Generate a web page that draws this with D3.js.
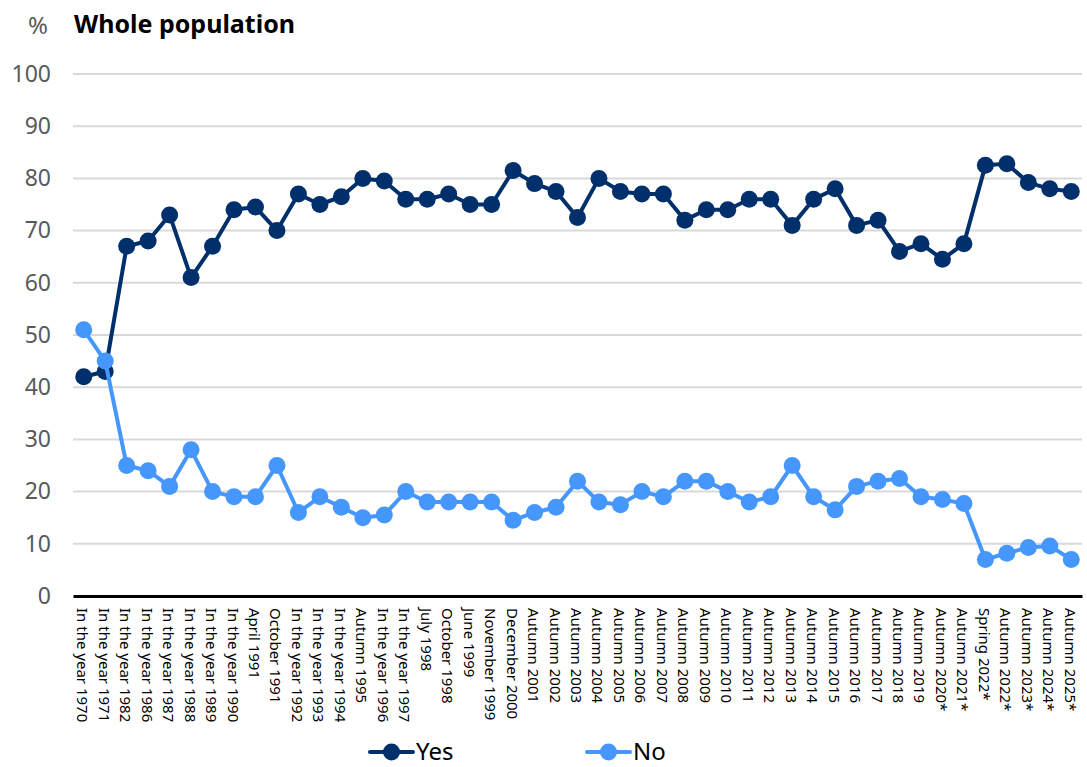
<!DOCTYPE html>
<html>
<head>
<meta charset="utf-8">
<script src="https://cdn.jsdelivr.net/npm/d3@7"></script>
<style>
  body { margin: 0; background: #fff; }
  svg { font-family: "Noto Sans", "Open Sans", sans-serif; }
</style>
</head>
<body>
<div id="chart"></div>
<script>
const periods = [
  'In the year 1970', 'In the year 1971', 'In the year 1982', 'In the year 1986', 'In the year 1987',
  'In the year 1988', 'In the year 1989', 'In the year 1990', 'April 1991', 'October 1991',
  'In the year 1992', 'In the year 1993', 'In the year 1994', 'Autumn 1995', 'In the year 1996',
  'In the year 1997', 'July 1998', 'October 1998', 'June 1999', 'November 1999',
  'December 2000', 'Autumn 2001', 'Autumn 2002', 'Autumn 2003', 'Autumn 2004',
  'Autumn 2005', 'Autumn 2006', 'Autumn 2007', 'Autumn 2008', 'Autumn 2009',
  'Autumn 2010', 'Autumn 2011', 'Autumn 2012', 'Autumn 2013', 'Autumn 2014',
  'Autumn 2015', 'Autumn 2016', 'Autumn 2017', 'Autumn 2018', 'Autumn 2019',
  'Autumn 2020*', 'Autumn 2021*', 'Spring 2022*', 'Autumn 2022*', 'Autumn 2023*',
  'Autumn 2024*', 'Autumn 2025*'
];

const yesValues = [
  42, 43, 67, 68, 73, 61, 67, 74, 74.5, 70,
  77, 75, 76.5, 80, 79.5, 76, 76, 77, 75, 75,
  81.5, 79, 77.5, 72.5, 80, 77.5, 77, 77, 72, 74,
  74, 76, 76, 71, 76, 78, 71, 72, 66, 67.5,
  64.5, 67.5, 82.5, 82.8, 79.2, 78, 77.5
];

const noValues = [
  51, 45, 25, 24, 21, 28, 20, 19, 19, 25,
  16, 19, 17, 15, 15.5, 20, 18, 18, 18, 18,
  14.5, 16, 17, 22, 18, 17.5, 20, 19, 22, 22,
  20, 18, 19, 25, 19, 16.5, 21, 22, 22.5, 19,
  18.5, 17.7, 7, 8.2, 9.3, 9.6, 7
];

const yTicks = [0, 10, 20, 30, 40, 50, 60, 70, 80, 90, 100];

const seriesNames = ['Yes', 'No'];
const seriesColors = ['#00306b', '#4597fd'];

const width = 1087, height = 767;
const margin = {top: 74, right: 5, bottom: 171, left: 73};
const innerW = width - margin.left - margin.right;
const innerH = height - margin.top - margin.bottom;

const svg = d3.select('#chart')
  .append('svg')
  .attr('width', width)
  .attr('height', height);

// header
svg.append('text')
  .attr('x', 48).attr('y', 34)
  .attr('text-anchor', 'end')
  .attr('font-size', 24)
  .attr('fill', '#595959')
  .text('%');

svg.append('text')
  .attr('x', 74).attr('y', 33)
  .attr('font-size', 25)
  .attr('font-weight', 'bold')
  .attr('fill', '#000')
  .text('Whole population');

const chart = svg.append('g')
  .attr('transform', `translate(${margin.left},${margin.top})`);

const xScale = d3.scalePoint()
  .domain(periods)
  .range([0, innerW])
  .padding(0.5);

const yScale = d3.scaleLinear()
  .domain([0, 100])
  .range([innerH, 0]);

// gridlines
chart.append('g')
  .selectAll('line')
  .data(yTicks.filter(d => d > 0))
  .join('line')
  .attr('x1', 0).attr('x2', innerW)
  .attr('y1', d => yScale(d)).attr('y2', d => yScale(d))
  .attr('stroke', '#d9d9d9')
  .attr('stroke-width', 2);

// y axis labels
const yAxis = d3.axisLeft(yScale).tickValues(yTicks).tickSize(0).tickPadding(22);
const yAxisG = chart.append('g').call(yAxis);
yAxisG.select('.domain').remove();
yAxisG.selectAll('text')
  .attr('font-size', 23)
  .attr('fill', '#595959')
  .attr('font-family', '"Noto Sans", sans-serif');

// x axis
const xAxis = d3.axisBottom(xScale).tickSize(0).tickPadding(0);
const xAxisG = chart.append('g')
  .attr('transform', `translate(0,${innerH})`)
  .call(xAxis);
xAxisG.select('.domain')
  .attr('stroke', '#000')
  .attr('stroke-width', 3);
xAxisG.selectAll('text')
  .attr('font-size', 15)
  .attr('fill', '#000')
  .attr('font-family', '"Noto Sans", sans-serif')
  .attr('text-anchor', 'start')
  .attr('dy', null)
  .attr('transform', 'translate(-7,12) rotate(90)')
  .attr('x', 0).attr('y', 0);

// lines
const seriesData = [yesValues, noValues];
const line = d3.line()
  .x((d, i) => xScale(periods[i]))
  .y(d => yScale(d));

seriesData.forEach((vals, s) => {
  const g = chart.append('g');
  g.append('path')
    .datum(vals)
    .attr('fill', 'none')
    .attr('stroke', seriesColors[s])
    .attr('stroke-width', 4)
    .attr('stroke-linejoin', 'round')
    .attr('d', line);
  g.selectAll('circle')
    .data(vals)
    .join('circle')
    .attr('cx', (d, i) => xScale(periods[i]))
    .attr('cy', d => yScale(d))
    .attr('r', 8.5)
    .attr('fill', seriesColors[s]);
});

// legend
const legendX = [370, 587];
const legend = svg.append('g');
seriesNames.forEach((name, s) => {
  const lg = legend.append('g').attr('transform', `translate(${legendX[s]},752)`);
  lg.append('line')
    .attr('x1', 0).attr('x2', 43)
    .attr('stroke', seriesColors[s])
    .attr('stroke-width', 4)
    .attr('stroke-linecap', 'round');
  lg.append('circle')
    .attr('cx', 21.5).attr('r', 8.5)
    .attr('fill', seriesColors[s]);
  lg.append('text')
    .attr('x', 46).attr('y', 8)
    .attr('font-size', 24)
    .attr('fill', '#000')
    .text(name);
});
</script>
</body>
</html>
